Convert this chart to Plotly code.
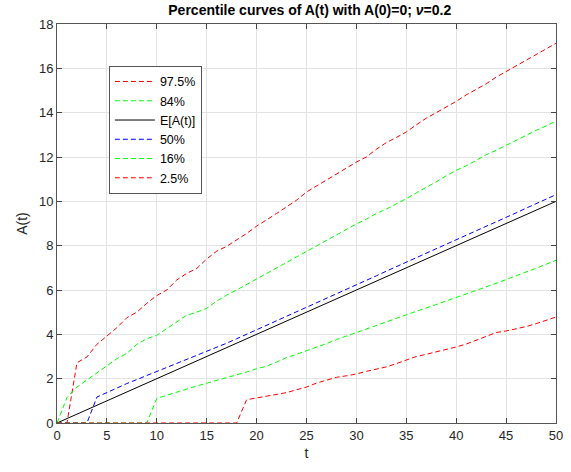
import plotly.graph_objects as go

t = list(range(0, 51))

p975 = [0, 0, 2.72, 2.98, 3.55, 3.92, 4.3, 4.75, 5.0, 5.4, 5.75, 6.0, 6.45, 6.75, 6.97, 7.4,
        7.75, 7.97, 8.25, 8.55, 8.88, 9.15, 9.45, 9.75, 10.05, 10.42, 10.7, 10.95, 11.25, 11.5,
        11.77, 12.0, 12.35, 12.65, 12.88, 13.13, 13.45, 13.75, 14.0, 14.25, 14.51, 14.8, 15.05,
        15.3, 15.6, 15.85, 16.1, 16.35, 16.6, 16.85, 17.13]

p84 = [0, 1.15, 1.62, 1.94, 2.25, 2.58, 2.9, 3.14, 3.55, 3.8, 3.96, 4.26, 4.56, 4.86, 5.0, 5.17,
       5.5, 5.77, 6.0, 6.25, 6.5, 6.75, 7.0, 7.25, 7.5, 7.73, 8.0, 8.25, 8.5, 8.75, 8.98, 9.2,
       9.45, 9.65, 9.88, 10.12, 10.38, 10.62, 10.88, 11.15, 11.4, 11.6, 11.85, 12.1, 12.3,
       12.53, 12.75, 12.97, 13.2, 13.4, 13.62]

mean_a = [0.0, 0.2, 0.4, 0.6, 0.8, 1.0, 1.2, 1.4, 1.6, 1.8, 2.0, 2.2, 2.4, 2.6, 2.8, 3.0,
          3.2, 3.4, 3.6, 3.8, 4.0, 4.2, 4.4, 4.6, 4.8, 5.0, 5.2, 5.4, 5.6, 5.8, 6.0, 6.2,
          6.4, 6.6, 6.8, 7.0, 7.2, 7.4, 7.6, 7.8, 8.0, 8.2, 8.4, 8.6, 8.8, 9.0, 9.2, 9.4,
          9.6, 9.8, 10.0]

p50 = [0, 0, 0, 0, 1.17, 1.38, 1.58, 1.78, 1.96, 2.14, 2.32, 2.5, 2.68, 2.88, 3.05, 3.22,
       3.4, 3.6, 3.8, 4.0, 4.22, 4.42, 4.62, 4.82, 5.02, 5.22, 5.42, 5.63, 5.83, 6.03, 6.24,
       6.44, 6.64, 6.85, 7.05, 7.25, 7.46, 7.66, 7.86, 8.07, 8.27, 8.47, 8.68, 8.88, 9.08,
       9.28, 9.48, 9.69, 9.89, 10.09, 10.3]

p16 = [0, 0, 0, 0, 0, 0, 0, 0, 0, 0, 1.11, 1.26, 1.4, 1.53, 1.67, 1.79, 1.94, 2.06, 2.15,
       2.3, 2.45, 2.56, 2.75, 2.95, 3.1, 3.25, 3.4, 3.58, 3.76, 3.92, 4.1, 4.26, 4.4, 4.59,
       4.74, 4.89, 5.04, 5.19, 5.34, 5.49, 5.64, 5.82, 5.98, 6.13, 6.3, 6.47, 6.63, 6.81,
       6.98, 7.16, 7.34]

p025 = [0, 0, 0, 0, 0, 0, 0, 0, 0, 0, 0, 0, 0, 0, 0, 0, 0, 0, 0, 1.05, 1.13, 1.2, 1.28,
        1.37, 1.5, 1.62, 1.8, 1.92, 2.06, 2.13, 2.21, 2.33, 2.42, 2.53, 2.68, 2.83, 3.0, 3.1,
        3.2, 3.32, 3.43, 3.56, 3.73, 3.91, 4.08, 4.15, 4.24, 4.35, 4.48, 4.63, 4.78]

series = [
    ("97.5%", p975, "#ff0000", "5px,3px"),
    ("84%", p84, "#00ff00", "5px,3px"),
    ("E[A(t)]", mean_a, "#000000", "solid"),
    ("50%", p50, "#0000ff", "5px,3px"),
    ("16%", p16, "#00ff00", "5px,3px"),
    ("2.5%", p025, "#ff0000", "5px,3px"),
]

fig = go.Figure()
for name, vals, color, dash in series:
    fig.add_trace(go.Scatter(x=t, y=vals, mode="lines", name=name,
                             line=dict(color=color, width=1, dash=dash)))

font_family = "Liberation Sans, Arial, Helvetica, sans-serif"
axis_style = dict(
    showline=True, linecolor="#555555", linewidth=1, mirror="allticks",
    ticks="inside", ticklen=5, tickcolor="#444444",
    showgrid=True, gridcolor="#e3e3e3", gridwidth=1, zeroline=False,
    tickfont=dict(size=13, color="#262626", family=font_family),
)

fig.update_xaxes(range=[0, 50], tick0=0, dtick=5,
                 title=dict(text="t", font=dict(size=14, color="#262626"), standoff=6),
                 **axis_style)
fig.update_yaxes(range=[0, 18], tick0=0, dtick=2,
                 title=dict(text="A(t)", font=dict(size=14, color="#262626"), standoff=8),
                 **axis_style)

fig.update_layout(
    width=571, height=472,
    margin=dict(l=57, r=8, t=24, b=49),
    paper_bgcolor="white", plot_bgcolor="white",
    font=dict(family=font_family, color="#262626"),
    title=dict(text="<b>Percentile curves of A(t) with A(0)=0; <i>ν</i>=0.2</b>",
               x=0.5425, xanchor="center", y=0.978, yanchor="middle",
               font=dict(size=14, color="#000000")),
    legend=dict(x=0.104, y=0.895, xanchor="left", yanchor="top",
                bgcolor="white", bordercolor="#555555", borderwidth=1,
                font=dict(size=12.5, color="#000000"), tracegroupgap=0,
                itemwidth=40),
    showlegend=True,
)

fig.write_html("out.html")
